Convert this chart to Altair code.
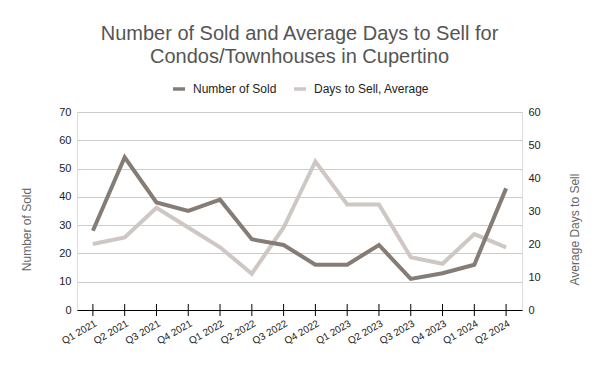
import altair as alt
import pandas as pd

quarters = ["Q1 2021", "Q2 2021", "Q3 2021", "Q4 2021", "Q1 2022", "Q2 2022", "Q3 2022",
            "Q4 2022", "Q1 2023", "Q2 2023", "Q3 2023", "Q4 2023", "Q1 2024", "Q2 2024"]
number_sold = [28, 54, 38, 35, 39, 25, 23, 16, 16, 23, 11, 13, 16, 43]
days_to_sell = [20, 22, 31, 25, 19, 11, 25, 45, 32, 32, 16, 14, 23, 19]
series_names = ["Number of Sold", "Days to Sell, Average"]
series_colors = ["#857c75", "#cec7c3"]
left_ticks = [0, 10, 20, 30, 40, 50, 60, 70]
right_ticks = [0, 10, 20, 30, 40, 50, 60]

df = pd.DataFrame({"quarter": quarters, "sold": number_sold, "days": days_to_sell})

FONT = "Liberation Sans"
W, H = 445, 198

x_enc = alt.X("quarter:N", sort=quarters,
              scale=alt.Scale(type="point", padding=0.5),
              axis=alt.Axis(title=None, labelAngle=-30, labelAlign="right", labelBaseline="top",
                            labelFontSize=10, labelColor="#222222", labelPadding=8,
                            ticks=False, domain=True, domainColor="#000000", domainWidth=1,
                            grid=False, labelFont=FONT))

color_scale = alt.Scale(domain=series_names, range=series_colors)

sold_line = alt.Chart(df).transform_calculate(
    series=f"'{series_names[0]}'"
).mark_line(strokeWidth=4, strokeJoin="miter").encode(
    x=x_enc,
    y=alt.Y("sold:Q", scale=alt.Scale(domain=[0, 70], nice=False),
            axis=alt.Axis(title="Number of Sold", values=left_ticks, orient="left",
                          grid=True, gridColor="#cccccc", domain=False, ticks=False,
                          labelFontSize=11, labelColor="#222222", labelPadding=6,
                          titleFontSize=12, titleFontWeight="normal", titleColor="#666666",
                          titleAngle=270, titleAlign="center", titleBaseline="middle",
                          titleX=-51, titleY=117,
                          labelFont=FONT, titleFont=FONT)),
    color=alt.Color("series:N", scale=color_scale,
                    legend=alt.Legend(title=None, orient="none", direction="horizontal",
                                      legendX=94, legendY=-31,
                                      symbolType="stroke", symbolSize=144,
                                      symbolStrokeWidth=3.5, labelOffset=6,
                                      labelFontSize=12, labelColor="#222222", labelFont=FONT,
                                      columnPadding=10, padding=0)),
)

days_line = alt.Chart(df).transform_calculate(
    series=f"'{series_names[1]}'"
).mark_line(strokeWidth=4, strokeJoin="miter").encode(
    x=x_enc,
    y=alt.Y("days:Q", scale=alt.Scale(domain=[0, 60], nice=False),
            axis=alt.Axis(title="Average Days to Sell", values=right_ticks, orient="right",
                          grid=False, domain=False, ticks=False,
                          labelFontSize=11, labelColor="#222222", labelPadding=6,
                          titleFontSize=12, titleFontWeight="normal", titleColor="#666666",
                          titleAngle=270, titleAlign="center", titleBaseline="middle",
                          titleX=52, titleY=117,
                          labelFont=FONT, titleFont=FONT)),
    color=alt.Color("series:N", scale=color_scale),
)

tick_marks = alt.Chart(df).mark_rule(color="#000000", strokeWidth=1).encode(
    x=x_enc,
    y=alt.value(H - 6),
    y2=alt.value(H + 6),
)

chart = alt.layer(days_line, sold_line, tick_marks).resolve_scale(
    y="independent"
).properties(
    width=W, height=H,
    title=alt.TitleParams(
        ["Number of Sold and Average Days to Sell for", "Condos/Townhouses in Cupertino"],
        fontSize=20, fontWeight="normal", color="#555555", font=FONT,
        anchor="middle", offset=14, lineHeight=23),
    autosize=alt.AutoSizeParams(type="none"),
    padding={"left": 69, "top": 104, "right": 70, "bottom": 53},
).configure_view(stroke=None).configure(background="white")

chart.save("out.html", embed_options={"renderer": "svg", "actions": False})
